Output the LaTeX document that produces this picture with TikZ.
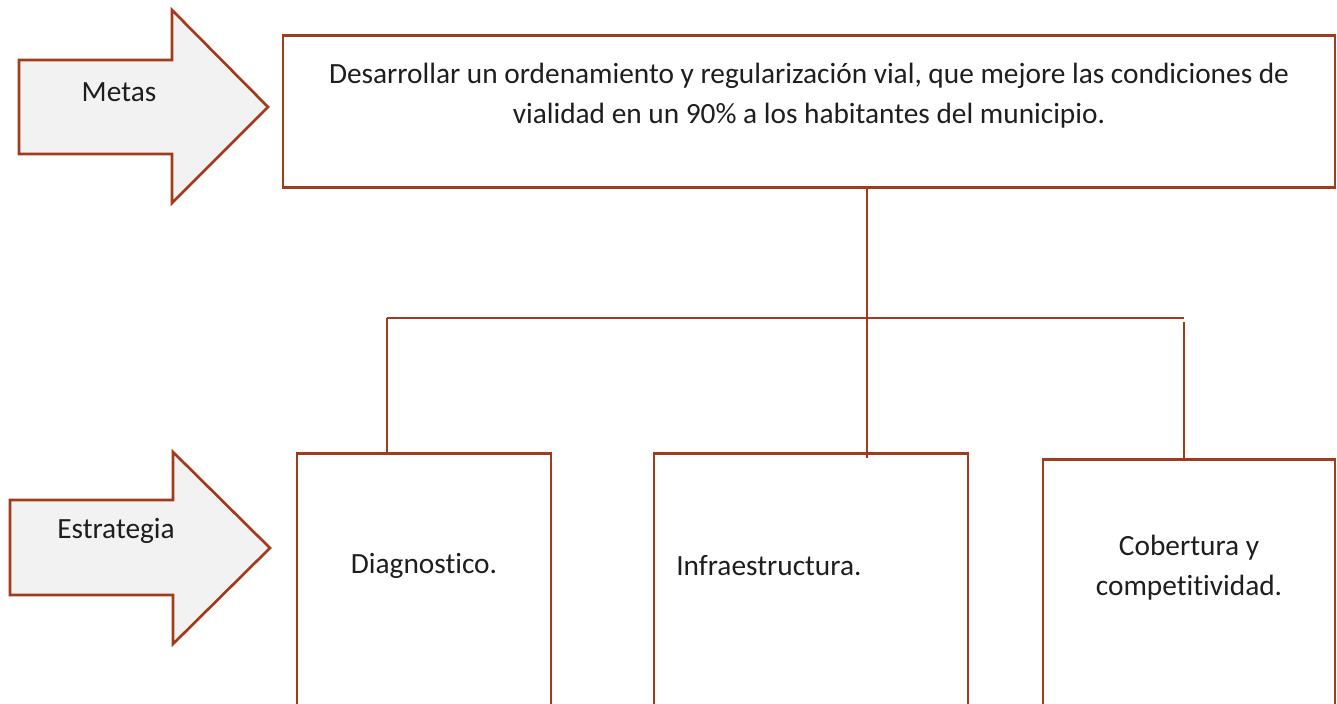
\documentclass[tikz,border=0pt]{standalone}
\usepackage{fontspec}
\setmainfont[Ligatures=NoCommon]{Carlito}
\usepackage{tikz}
\usetikzlibrary{positioning,calc}
\definecolor{vlred}{HTML}{A23A1C}
\definecolor{vlgrey}{HTML}{F2F2F2}
\definecolor{vlink}{HTML}{1E1E1E}
\tikzset{
  card/.style={draw=vlred,line width=2pt,fill=white,anchor=north,inner sep=0pt},
  pointer/.style={draw=vlred,line width=2pt,fill=vlgrey,line join=miter},
  txt/.style={font=\fontsize{22}{30}\selectfont,text=vlink,align=center,inner sep=0pt},
  lnk/.style={draw=vlred,line width=1.8pt},
}
\begin{document}
\begin{tikzpicture}[x=0.75pt,y=-0.75pt]
  \useasboundingbox (0,0) rectangle (1337,703);
  % arrows on the left
  \draw[pointer] (19,60) -- (172,60) -- (172,10) -- (268,107) -- (172,203) -- (172,154) -- (19,154) -- cycle;
  \node[txt] (metas) at (119,92) {Metas};
  \draw[pointer] (10,500) -- (173,500) -- (173,452) -- (270,548) -- (173,644) -- (173,595) -- (10,595) -- cycle;
  \node[txt] (estr) at (116,531) {Estrategia};
  % goal box
  \node[card,minimum width=1052*0.75pt,minimum height=152*0.75pt] (goal) at (809,34) {};
  \node[txt] (goaltxt) at (809,96) {Desarrollar un ordenamiento y regularización vial, que mejore las condiciones de\\vialidad en un 90\% a los habitantes del municipio.};
  % strategy boxes
  \node[card,minimum width=254*0.75pt,minimum height=320*0.75pt] (diag) at (424,452) {};
  \node[card,minimum width=314*0.75pt,minimum height=320*0.75pt] (infra) at (811,452) {};
  \node[card,minimum width=292*0.75pt,minimum height=320*0.75pt] (cober) at (1189,458) {};
  \node[txt] (diagtxt) at (424,566) {Diagnostico.};
  \node[txt,anchor=west] (infratxt) at (676,566) {Infraestructura.};
  \node[txt] (cobertxt) at (1189,568) {Cobertura y\\competitividad.};
  % connectors
  \coordinate (barL) at (387,318);
  \coordinate (barM) at (867,318);
  \coordinate (barR) at (1184,318);
  \draw[lnk] (goal.south -| barM) -- ($(infra.north -| barM)+(0,6)$);
  \draw[lnk] (barL) -- (barR);
  \draw[lnk] (barL) -- ($(diag.north -| barL)+(0,3)$);
  \draw[lnk] ($(barR)+(0,4)$) -- (cober.north -| barR);
\end{tikzpicture}
\end{document}
